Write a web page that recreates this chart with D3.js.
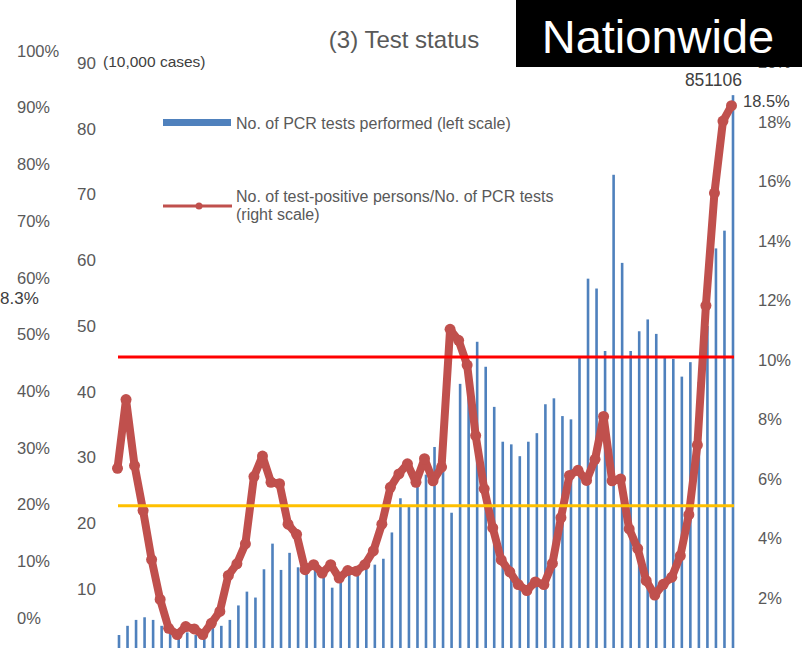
<!DOCTYPE html>
<html>
<head>
<meta charset="utf-8">
<script src="https://cdn.jsdelivr.net/npm/d3@7"></script>
<style>
  html, body { margin: 0; padding: 0; background: #ffffff; }
  svg { display: block; font-family: "Liberation Sans", Arial, sans-serif; }
</style>
</head>
<body>
<svg id="chart" width="802" height="648"></svg>
<script>
// ---- data ----
const categories = d3.range(1, 74); // weekly periods
const testsPerformed = [3.0, 4.4, 5.3, 5.7, 5.3, 4.4, 4.1, 3.3, 3.4, 3.0,
  3.5, 4.3, 4.4, 5.3, 7.5, 9.6, 8.7, 13.0, 16.9, 12.9,
  15.5, 13.3, 13.3, 13.1, 12.3, 10.2, 12.3, 12.6, 12.8, 13.1,
  13.7, 14.6, 18.6, 23.8, 22.5, 26.3, 27.4, 31.6, 35.5, 21.6,
  41.2, 44.0, 47.6, 43.8, 37.7, 32.4, 32.0, 30.2, 32.4, 33.7,
  38.1, 39.0, 36.3, 35.8, 45.2, 57.2, 55.7, 46.2, 73.0, 59.6,
  46.2, 49.2, 51.0, 48.8, 45.3, 45.0, 42.3, 44.5, 41.5, 50.0,
  61.8, 64.5, 85.1106];
const positivityRate = [6.31, 8.62, 6.40, 4.89, 3.24, 1.90, 0.93, 0.72, 0.99, 0.91,
  0.72, 1.10, 1.50, 2.71, 3.10, 3.77, 6.03, 6.72, 5.84, 5.79,
  4.43, 4.09, 2.90, 3.07, 2.79, 3.07, 2.62, 2.87, 2.85, 3.07,
  3.53, 4.43, 5.67, 6.12, 6.46, 5.84, 6.63, 5.89, 6.35, 10.98,
  10.61, 9.78, 7.41, 5.62, 4.31, 3.23, 2.83, 2.40, 2.20, 2.49,
  2.40, 3.11, 4.65, 6.07, 6.24, 5.90, 6.61, 8.05, 5.89, 5.95,
  4.27, 3.61, 2.53, 2.05, 2.41, 2.65, 3.37, 4.75, 7.09, 11.78,
  15.56, 17.98, 18.5];
const leftTicks = [10, 20, 30, 40, 50, 60, 70, 80, 90];
const rightTicks = [2, 4, 6, 8, 10, 12, 14, 16, 18, 20];
const outerPctTicks = [0, 0.1, 0.2, 0.3, 0.4, 0.5, 0.6, 0.7, 0.8, 0.9, 1.0];
const thresholds = [{ value: 10, color: "#FF0000" }, { value: 5, color: "#FFC000" }];
const sideNote = "8.3%";
const titleText = "(3) Test status";
const regionText = "Nationwide";
const unitText = "(10,000 cases)";
const legendBar = "No. of PCR tests performed (left scale)";
const legendLine = ["No. of test-positive persons/No. of PCR tests", "(right scale)"];

// ---- layout ----
const svg = d3.select("#chart");
const textColor = "#595959";

const x = d3.scaleLinear().domain([0, categories.length - 1]).range([119, 733]);
const yLeft = d3.scaleLinear().domain([0, 90]).range([654.75, 63]);
const yRight = d3.scaleLinear().domain([0, 20]).range([656, 61]);
const yOuter = d3.scaleLinear().domain([0, 1]).range([618, 51]);

// bars
svg.append("g").selectAll("rect").data(testsPerformed).join("rect")
  .attr("x", (d, i) => x(i) - 1.3)
  .attr("width", 2.6)
  .attr("y", d => yLeft(d))
  .attr("height", d => yLeft(0) - yLeft(d))
  .attr("fill", "#4F81BD");

// positivity line
const line = d3.line().x((d, i) => x(i) - 1.5).y(d => yRight(d));
svg.append("path").datum(positivityRate)
  .attr("d", line)
  .attr("fill", "none")
  .attr("stroke", "#C0504D")
  .attr("stroke-width", 8)
  .attr("stroke-linejoin", "round")
  .attr("stroke-linecap", "round");
svg.append("g").selectAll("circle").data(positivityRate).join("circle")
  .attr("cx", (d, i) => x(i) - 1.5)
  .attr("cy", d => yRight(d))
  .attr("r", 5.5)
  .attr("fill", "#C0504D");

// threshold lines
svg.append("g").selectAll("line").data(thresholds).join("line")
  .attr("x1", 118).attr("x2", 734)
  .attr("y1", d => yRight(d.value) - 1.5)
  .attr("y2", d => yRight(d.value) - 1.5)
  .attr("stroke", d => d.color)
  .attr("stroke-width", 3);

// axes
function styleAxis(g, size) {
  g.select(".domain").remove();
  g.selectAll(".tick line").remove();
  g.selectAll("text").attr("fill", textColor).style("font-size", size + "px")
    .style("font-family", "'Liberation Sans', Arial, sans-serif");
}
svg.append("g").attr("transform", "translate(17,0)")
  .call(d3.axisRight(yOuter).tickValues(outerPctTicks).tickFormat(d3.format(".0%")).tickSize(0).tickPadding(0))
  .call(g => styleAxis(g, 16.5));
svg.append("g").attr("transform", "translate(96,0)")
  .call(d3.axisLeft(yLeft).tickValues(leftTicks).tickSize(0).tickPadding(0))
  .call(g => styleAxis(g, 17));
svg.append("g").attr("transform", "translate(758,1.5)")
  .call(d3.axisRight(yRight).tickValues(rightTicks).tickFormat(d => d + "%").tickSize(0).tickPadding(0))
  .call(g => styleAxis(g, 16.5));

// annotations
svg.append("text").attr("x", 103).attr("y", 67).attr("fill", "#404040")
  .style("font-size", "15.5px").text(unitText);
svg.append("text").attr("x", 0).attr("y", 304).attr("fill", "#404040")
  .style("font-size", "17px").text(sideNote);
svg.append("text").attr("x", 742).attr("y", 86).attr("text-anchor", "end").attr("fill", "#404040")
  .style("font-size", "17.5px").text(Math.round(testsPerformed[testsPerformed.length - 1] * 10000));
svg.append("text").attr("x", 743).attr("y", 107).attr("fill", "#404040")
  .style("font-size", "16.5px").text(d3.format(".1f")(positivityRate[positivityRate.length - 1]) + "%");

// title
svg.append("text").attr("x", 404).attr("y", 48).attr("text-anchor", "middle").attr("fill", textColor)
  .style("font-size", "24px").text(titleText);

// legend
svg.append("rect").attr("x", 163).attr("y", 119).attr("width", 68).attr("height", 7).attr("fill", "#4F81BD");
svg.append("text").attr("x", 236).attr("y", 128.5).attr("fill", textColor).style("font-size", "16px").text(legendBar);
svg.append("line").attr("x1", 163).attr("x2", 232).attr("y1", 206).attr("y2", 206)
  .attr("stroke", "#C0504D").attr("stroke-width", 3);
svg.append("circle").attr("cx", 199).attr("cy", 206).attr("r", 3.5).attr("fill", "#C0504D");
svg.append("text").attr("fill", textColor).style("font-size", "16px")
  .selectAll("tspan").data(legendLine).join("tspan")
  .attr("x", 236).attr("y", (d, i) => 201.5 + i * 18).text(d => d);

// region box (drawn last, covers part of the right axis)
svg.append("rect").attr("x", 516).attr("y", 0).attr("width", 286).attr("height", 67).attr("fill", "#000000");
svg.append("text").attr("x", 658).attr("y", 53).attr("text-anchor", "middle").attr("fill", "#ffffff")
  .style("font-size", "47px").text(regionText);
</script>
</body>
</html>
